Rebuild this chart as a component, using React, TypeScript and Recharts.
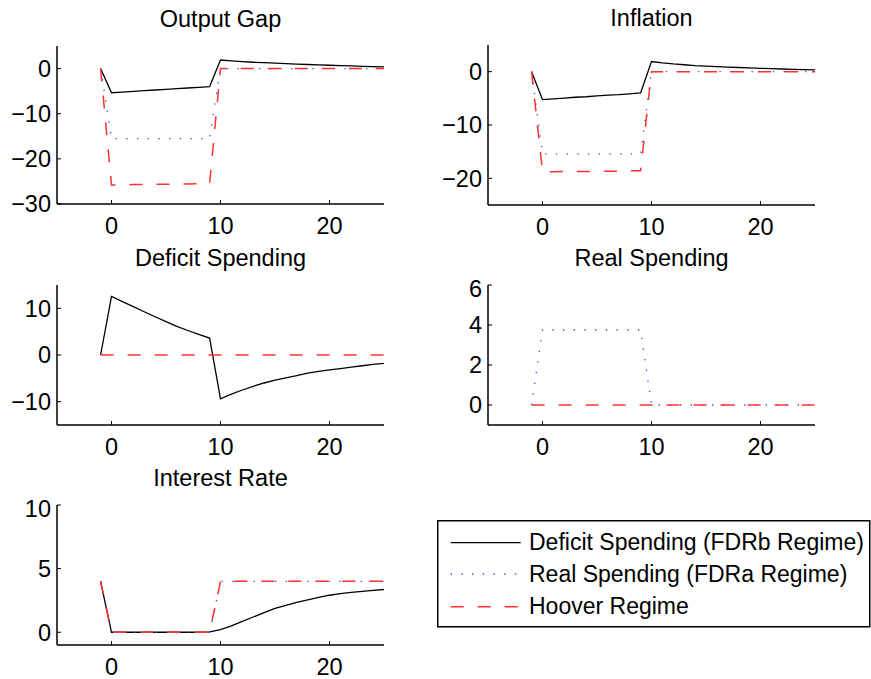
import { LineChart, Line, XAxis, YAxis } from 'recharts';

const FONT = '"Liberation Sans", Arial, Helvetica, sans-serif';

// quarters after the shock
const periods = [-1, 0, 1, 2, 3, 4, 5, 6, 7, 8, 9, 10, 11, 12, 13, 14, 15, 16, 17, 18, 19, 20, 21, 22, 23, 24, 25];

const outputGapFDRb = [0, -5.35, -5.2, -5.05, -4.9, -4.75, -4.6, -4.45, -4.3, -4.15, -4.0, 1.9, 1.7, 1.55, 1.4, 1.3, 1.2, 1.1, 1.0, 0.9, 0.82, 0.74, 0.66, 0.58, 0.5, 0.43, 0.37];
const outputGapFDRa = [0, -15.5, -15.5, -15.5, -15.5, -15.5, -15.5, -15.5, -15.5, -15.5, -15.5, 0, 0, 0, 0, 0, 0, 0, 0, 0, 0, 0, 0, 0, 0, 0, 0];
const outputGapHoover = [0, -25.8, -25.75, -25.7, -25.7, -25.65, -25.6, -25.6, -25.55, -25.5, -25.5, 0, 0, 0, 0, 0, 0, 0, 0, 0, 0, 0, 0, 0, 0, 0, 0];

const inflationFDRb = [0, -5.25, -5.1, -4.95, -4.8, -4.7, -4.55, -4.4, -4.3, -4.15, -4.0, 1.9, 1.65, 1.45, 1.3, 1.15, 1.05, 0.95, 0.85, 0.78, 0.7, 0.63, 0.56, 0.5, 0.44, 0.38, 0.32];
const inflationFDRa = [0, -15.4, -15.4, -15.4, -15.4, -15.4, -15.4, -15.4, -15.4, -15.4, -15.4, 0, 0, 0, 0, 0, 0, 0, 0, 0, 0, 0, 0, 0, 0, 0, 0];
const inflationHoover = [0, -18.75, -18.75, -18.7, -18.7, -18.7, -18.7, -18.65, -18.65, -18.6, -18.6, 0, 0, 0, 0, 0, 0, 0, 0, 0, 0, 0, 0, 0, 0, 0, 0];

const deficitFDRb = [0, 12.55, 11.45, 10.35, 9.27, 8.2, 7.15, 6.13, 5.25, 4.4, 3.64, -9.4, -8.4, -7.5, -6.7, -6.0, -5.4, -4.9, -4.4, -3.9, -3.5, -3.2, -2.9, -2.6, -2.3, -2.0, -1.8];
const deficitHoover = [0, 0, 0, 0, 0, 0, 0, 0, 0, 0, 0, 0, 0, 0, 0, 0, 0, 0, 0, 0, 0, 0, 0, 0, 0, 0, 0];

const realFDRa = [0, 3.75, 3.75, 3.75, 3.75, 3.75, 3.75, 3.75, 3.75, 3.75, 3.75, 0, 0, 0, 0, 0, 0, 0, 0, 0, 0, 0, 0, 0, 0, 0, 0];
const realHoover = [0, 0, 0, 0, 0, 0, 0, 0, 0, 0, 0, 0, 0, 0, 0, 0, 0, 0, 0, 0, 0, 0, 0, 0, 0, 0, 0];

const interestFDRb = [4, 0, 0, 0, 0, 0, 0, 0, 0, 0, 0.03, 0.2, 0.5, 0.85, 1.2, 1.55, 1.87, 2.12, 2.35, 2.55, 2.74, 2.91, 3.03, 3.13, 3.22, 3.3, 3.36];
const interestFDRa = [4, 0, 0, 0, 0, 0, 0, 0, 0, 0, 0, 4, 4, 4, 4, 4, 4, 4, 4, 4, 4, 4, 4, 4, 4, 4, 4];
const interestHoover = [4, 0, 0, 0, 0, 0, 0, 0, 0, 0, 0, 4, 4, 4, 4, 4, 4, 4, 4, 4, 4, 4, 4, 4, 4, 4, 4];

const xTicks = [0, 10, 20];

const legendLabels = ['Deficit Spending (FDRb Regime)', 'Real Spending (FDRa Regime)', 'Hoover Regime'];

const STYLE = {
  fdrb: { stroke: '#000000', strokeWidth: 1.3, strokeDasharray: undefined },
  fdra: { stroke: '#3a3aff', strokeWidth: 1.3, strokeDasharray: '1.3 9.4' },
  hoover: { stroke: '#ff3030', strokeWidth: 1.5, strokeDasharray: '13 14' },
};

function rows(a?: number[], b?: number[], c?: number[]) {
  return periods.map((x, i) => ({
    x,
    fdrb: a ? a[i] : null,
    fdra: b ? b[i] : null,
    hoover: c ? c[i] : null,
  }));
}

const fmt = (v: number) => (v < 0 ? '\u2212' + Math.abs(v) : String(v));

interface Box { left: number; top: number; width: number; height: number }

function Panel({ title, data, domain, ticks, box, keys }: {
  title: string; data: any[]; domain: [number, number]; ticks: number[]; box: Box; keys: ('fdrb' | 'fdra' | 'hoover')[];
}) {
  const padL = 70, padT = 10, padR = 10, padB = 45;
  const axisLine = { stroke: '#000', strokeWidth: 1.5 };
  const tickLine = { stroke: '#000', strokeWidth: 1 };
  const tickStyle = { fill: '#000', fontSize: 23.5, fontFamily: FONT };
  return (
    <>
      <div style={{
        position: 'absolute', left: box.left, top: box.top - 18 - 19.9, width: box.width,
        textAlign: 'center', fontSize: 23.5, lineHeight: '23.5px', fontFamily: FONT, color: '#000',
      }}>{title}</div>
      <div style={{ position: 'absolute', left: box.left - padL, top: box.top - padT }}>
        <LineChart width={padL + box.width + padR} height={padT + box.height + padB} data={data}
          margin={{ top: padT, right: padR, bottom: 0, left: 0 }}>
          <XAxis xAxisId="b" type="number" dataKey="x" domain={[-5, 25]} ticks={xTicks} allowDataOverflow
            height={padB} tickSize={-4} tickMargin={17} axisLine={axisLine} tickLine={tickLine} tick={tickStyle} />
          <XAxis xAxisId="t" orientation="top" type="number" dataKey="x" domain={[-5, 25]} ticks={xTicks} allowDataOverflow
            height={0} tickSize={-4} axisLine={axisLine} tickLine={tickLine} tick={false} />
          <YAxis yAxisId="l" type="number" domain={domain} ticks={ticks} allowDataOverflow width={padL}
            tickSize={-4} tickMargin={10} axisLine={axisLine} tickLine={tickLine} tick={tickStyle} tickFormatter={fmt} />
          <YAxis yAxisId="r" orientation="right" type="number" domain={domain} ticks={ticks} allowDataOverflow width={0}
            tickSize={-4} axisLine={axisLine} tickLine={tickLine} tick={false} />
          {keys.map(k => (
            <Line key={k} xAxisId="b" yAxisId="l" type="linear" dataKey={k} dot={false} activeDot={false}
              stroke={STYLE[k].stroke} strokeWidth={STYLE[k].strokeWidth} strokeDasharray={STYLE[k].strokeDasharray}
              isAnimationActive={false} />
          ))}
        </LineChart>
      </div>
    </>
  );
}

function Legend() {
  const keys: ('fdrb' | 'fdra' | 'hoover')[] = ['fdrb', 'fdra', 'hoover'];
  const lineY = [22.7, 54, 86.7];
  const textY = [30, 61.7, 94.3];
  return (
    <svg style={{ position: 'absolute', left: 437, top: 520 }} width={434} height={108}>
      <rect x={0.75} y={0.75} width={432} height={106} fill="#fff" stroke="#000" strokeWidth={1.5} />
      {keys.map((k, i) => (
        <g key={k}>
          <line x1={13.7} x2={83.7} y1={lineY[i]} y2={lineY[i]} stroke={STYLE[k].stroke}
            strokeWidth={STYLE[k].strokeWidth} strokeDasharray={STYLE[k].strokeDasharray} />
          <text x={92} y={textY[i]} fontSize={23} fontFamily={FONT} fill="#000">{legendLabels[i]}</text>
        </g>
      ))}
    </svg>
  );
}

export default function App() {
  return (
    <div style={{ position: 'absolute', left: 0, top: 0, width: 871, height: 679, background: '#fff', overflow: 'hidden' }}>
      <Panel title="Output Gap" data={rows(outputGapFDRb, outputGapFDRa, outputGapHoover)}
        domain={[-30, 5]} ticks={[-30, -20, -10, 0]} box={{ left: 57, top: 46, width: 327, height: 158 }}
        keys={['fdrb', 'fdra', 'hoover']} />
      <Panel title="Inflation" data={rows(inflationFDRb, inflationFDRa, inflationHoover)}
        domain={[-25, 5]} ticks={[-20, -10, 0]} box={{ left: 488, top: 45, width: 327, height: 160 }}
        keys={['fdrb', 'fdra', 'hoover']} />
      <Panel title="Deficit Spending" data={rows(deficitFDRb, undefined, deficitHoover)}
        domain={[-15, 15]} ticks={[-10, 0, 10]} box={{ left: 57, top: 284.5, width: 327, height: 140 }}
        keys={['fdrb', 'hoover']} />
      <Panel title="Real Spending" data={rows(undefined, realFDRa, realHoover)}
        domain={[-1, 6]} ticks={[0, 2, 4, 6]} box={{ left: 488, top: 284.5, width: 327, height: 140 }}
        keys={['fdra', 'hoover']} />
      <Panel title="Interest Rate" data={rows(interestFDRb, interestFDRa, interestHoover)}
        domain={[-1, 10]} ticks={[0, 5, 10]} box={{ left: 57, top: 504.5, width: 327, height: 140 }}
        keys={['fdrb', 'fdra', 'hoover']} />
      <Legend />
    </div>
  );
}
